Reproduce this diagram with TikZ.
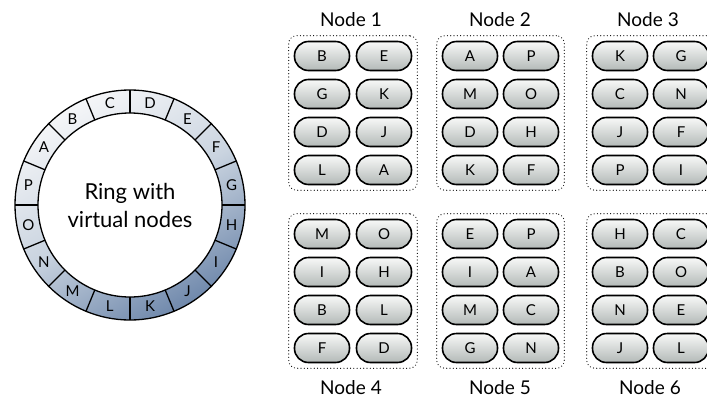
\documentclass[tikz,border=0pt]{standalone}
\usepackage{fontspec}
\setmainfont{Lato}
\usetikzlibrary{calc,fit}

\definecolor{ringlight}{HTML}{F5F6F8}
\definecolor{ringmid}{HTML}{CAD4E0}
\definecolor{ringdark}{HTML}{7089AC}
\definecolor{pilltop}{HTML}{F8F9F8}
\definecolor{pillbot}{HTML}{B3B9B7}

\begin{document}
\begin{tikzpicture}[x=1pt,y=1pt,
	vnode/.style={draw=black,line width=1.6pt,rounded corners=14pt,
		minimum width=55pt,minimum height=29pt,inner sep=0pt,
		top color=pilltop,bottom color=pillbot,font=\fontsize{15}{15}\selectfont},
	host/.style={draw,line width=1.2pt,line cap=round,dash pattern=on 0pt off 3.3pt,
		rounded corners=8pt,inner sep=5pt},
	hostname/.style={font=\fontsize{19}{19}\selectfont},
	seglabel/.style={font=\fontsize{15}{15}\selectfont}]
	\useasboundingbox (0,0) rectangle (707,-399);

	% ring of virtual nodes
	\coordinate (ring) at (130,-205);
	\shade[even odd rule,top color=ringlight,bottom color=ringdark,middle color=ringmid,
		shading angle=30]
		(ring) circle[radius=115] (ring) circle[radius=92];
	\draw[line width=1.3pt] (ring) circle[radius=115] (ring) circle[radius=92];
	\foreach \a in {0,22.5,...,337.5}
		\draw[line width=1.3pt] ($(ring)+(\a:92)$) -- ($(ring)+(\a:115)$);
	\foreach \l [count=\i from 0] in {D,E,F,G,H,I,J,K,L,M,N,O,P,A,B,C}
		\node[seglabel] (seg\l) at ($(ring)+({78.75-22.5*\i}:103.5)$) {\l};
	\node[align=center,font=\fontsize{22}{28}\selectfont] (ringtext) at (ring) {Ring with\\virtual nodes};

	% Node 1
	\node[hostname] (name1) at (351,-20) {Node 1};
	\foreach \a/\b [count=\r from 0] in {B/E,G/K,D/J,L/A} {
		\node[vnode] (h1a\r) at (322,-56-38*\r) {\a};
		\node[vnode] (h1b\r) at (384,-56-38*\r) {\b};
	}
	\node[host,fit=(h1a0)(h1b3)] (host1) {};

	% Node 2
	\node[hostname] (name2) at (500,-20) {Node 2};
	\foreach \a/\b [count=\r from 0] in {A/P,M/O,D/H,K/F} {
		\node[vnode] (h2a\r) at (470,-56-38*\r) {\a};
		\node[vnode] (h2b\r) at (531,-56-38*\r) {\b};
	}
	\node[host,fit=(h2a0)(h2b3)] (host2) {};

	% Node 3
	\node[hostname] (name3) at (648,-20) {Node 3};
	\foreach \a/\b [count=\r from 0] in {K/G,C/N,J/F,P/I} {
		\node[vnode] (h3a\r) at (620,-56-38*\r) {\a};
		\node[vnode] (h3b\r) at (681,-56-38*\r) {\b};
	}
	\node[host,fit=(h3a0)(h3b3)] (host3) {};

	% Node 4
	\node[hostname] (name4) at (351,-388) {Node 4};
	\foreach \a/\b [count=\r from 0] in {M/O,I/H,B/L,F/D} {
		\node[vnode] (h4a\r) at (322,-234-38*\r) {\a};
		\node[vnode] (h4b\r) at (384,-234-38*\r) {\b};
	}
	\node[host,fit=(h4a0)(h4b3)] (host4) {};

	% Node 5
	\node[hostname] (name5) at (500,-388) {Node 5};
	\foreach \a/\b [count=\r from 0] in {E/P,I/A,M/C,G/N} {
		\node[vnode] (h5a\r) at (470,-234-38*\r) {\a};
		\node[vnode] (h5b\r) at (531,-234-38*\r) {\b};
	}
	\node[host,fit=(h5a0)(h5b3)] (host5) {};

	% Node 6
	\node[hostname] (name6) at (650,-388) {Node 6};
	\foreach \a/\b [count=\r from 0] in {H/C,B/O,N/E,J/L} {
		\node[vnode] (h6a\r) at (620,-234-38*\r) {\a};
		\node[vnode] (h6b\r) at (681,-234-38*\r) {\b};
	}
	\node[host,fit=(h6a0)(h6b3)] (host6) {};
\end{tikzpicture}
\end{document}
